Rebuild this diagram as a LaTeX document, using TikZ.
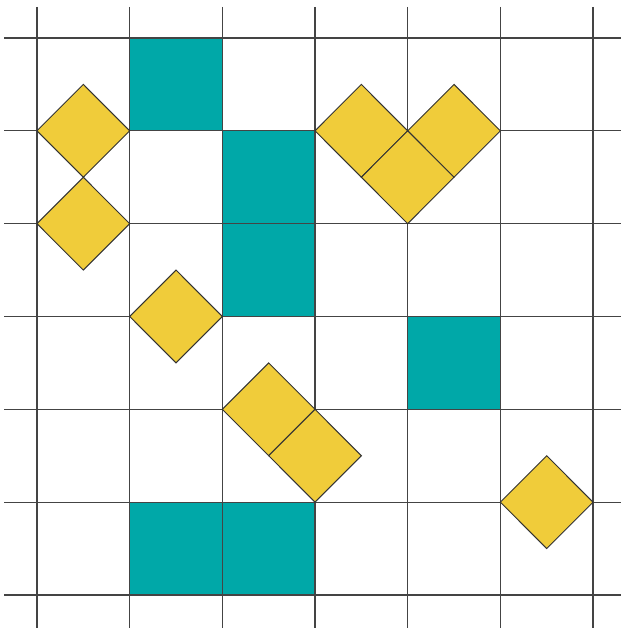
\documentclass[tikz,border=0pt]{standalone}
\definecolor{tealfill}{HTML}{00A8A8}
\definecolor{yellowfill}{HTML}{F0CC3A}
\definecolor{gridcol}{HTML}{444444}
\definecolor{edgecol}{HTML}{333333}
\tikzset{
  tealcell/.style={fill=tealfill, draw=none},
  gridline/.style={draw=gridcol, line width=1.1pt},
  yellowdiamond/.style={fill=yellowfill, draw=edgecol, line width=0.95pt, line join=miter}
}
\begin{document}
\begin{tikzpicture}[x=1pt,y=-1pt]
\useasboundingbox (0,0) rectangle (621,628);
\fill[white] (0,0) rectangle (621,628);
\begin{scope}[shift={(37,38)}, x=92.67pt, y=-92.83pt]
  % teal cells
  \foreach \cx/\cy in {1/0, 2/1, 2/2, 4/3, 1/5, 2/5}
    \fill[tealcell] (\cx,\cy) rectangle ++(1,1);
  % grid
  \foreach \i in {0,...,6}
    \draw[gridline] (\i,-0.334) -- (\i,6.358);
  \foreach \j in {0,...,6}
    \draw[gridline] (-0.356,\j) -- (6.302,\j);
  % diamonds
  \foreach \cx/\cy in {0.5/1, 0.5/2, 1.5/3, 3.5/1, 4.5/1, 4/1.5, 2.5/4, 3/4.5, 5.5/5}
    \filldraw[yellowdiamond] (\cx,\cy) ++(-0.5,0) -- ++(0.5,-0.5) -- ++(0.5,0.5) -- ++(-0.5,0.5) -- cycle;
\end{scope}
\end{tikzpicture}
\end{document}
